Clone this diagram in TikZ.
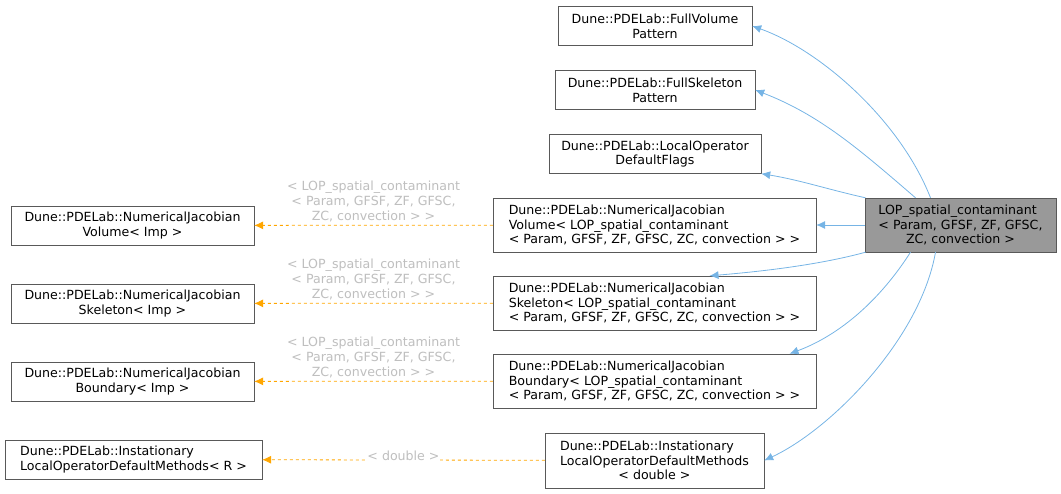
\documentclass[tikz,border=0pt]{standalone}
\usepackage{fontspec}
\setmainfont{DejaVu Sans}
\usetikzlibrary{arrows.meta}
\begin{document}
\begin{tikzpicture}
  [x=1pt,y=-1pt,
    every node/.style={font=\fontsize{12.6}{14.8}\selectfont},
    cls/.style={draw=black!65,fill=white,align=left,inner sep=2pt,minimum height=#1},
    cls/.default=39,
    inherit/.style={draw=cyan!70!blue!55,-{Latex[length=9pt,width=8pt]},thick},
    tmpl/.style={draw=orange!70!yellow,dashed,-{Latex[length=9pt,width=8pt]},thick},
    lbl/.style={text=black!25,align=center,fill=white,inner sep=0pt},
]
  \useasboundingbox (0,0) rectangle (1061,494);

  % bases
  \node[cls,minimum width=194] (fvol) at (655,26) {Dune::PDELab::FullVolume\\\hfill Pattern\hfill\null};
  \node[cls,minimum width=200] (fskel) at (655,90) {Dune::PDELab::FullSkeleton\\\hfill Pattern\hfill\null};
  \node[cls,minimum width=212] (flags) at (655,154) {Dune::PDELab::LocalOperator\\\hfill DefaultFlags\hfill\null};
  \node[cls=54,minimum width=323] (njvol) at (654.5,225) {Dune::PDELab::NumericalJacobian\\Volume< LOP\_spatial\_contaminant\\< Param, GFSF, ZF, GFSC, ZC, convection > >};
  \node[cls=54,minimum width=323] (njskel) at (654.5,303) {Dune::PDELab::NumericalJacobian\\Skeleton< LOP\_spatial\_contaminant\\< Param, GFSF, ZF, GFSC, ZC, convection > >};
  \node[cls=54,minimum width=323] (njbnd) at (654.5,381) {Dune::PDELab::NumericalJacobian\\Boundary< LOP\_spatial\_contaminant\\< Param, GFSF, ZF, GFSC, ZC, convection > >};
  \node[cls=55,minimum width=219] (inst) at (654.5,460.5) {Dune::PDELab::Instationary\\LocalOperatorDefaultMethods\\\hfill< double >\hfill\null};

  % templates
  \node[cls,minimum width=243] (tvol) at (132.5,225.5) {Dune::PDELab::NumericalJacobian\\\hfill Volume< Imp >\hfill\null};
  \node[cls,minimum width=243] (tskel) at (132.5,303.5) {Dune::PDELab::NumericalJacobian\\\hfill Skeleton< Imp >\hfill\null};
  \node[cls,minimum width=243] (tbnd) at (132.5,381.5) {Dune::PDELab::NumericalJacobian\\\hfill Boundary< Imp >\hfill\null};
  \node[cls,minimum width=257] (tinst) at (133.5,459.5) {Dune::PDELab::Instationary\\LocalOperatorDefaultMethods< R >};

  % class
  \node[cls=54,minimum width=191,fill=black!40] (lop) at (960.5,225) {LOP\_spatial\_contaminant\\< Param, GFSF, ZF, GFSC,\\\hfill ZC, convection >\hfill\null};

  \draw[inherit] ([xshift=-30]lop.north) .. controls (900,120) and (820,50) .. (fvol.east);
  \draw[inherit] ([xshift=-45]lop.north) .. controls (860,150) and (820,115) .. (fskel.east);
  \draw[inherit] ([xshift=-95]lop.north) .. controls (830,190) and (800,180) .. (flags.south east);
  \draw[inherit] (lop.west) -- (njvol.east);
  \draw[inherit] ([xshift=-95]lop.south) .. controls (830,262) and (780,270) .. ([xshift=55]njskel.north);
  \draw[inherit] ([xshift=-50]lop.south) .. controls (880,300) and (840,335) .. ([xshift=135]njbnd.north);
  \draw[inherit] ([xshift=-25]lop.south) .. controls (920,340) and (830,430) .. (inst.east);

  \draw[tmpl] (njvol) -- node[lbl,above=3pt]{< LOP\_spatial\_contaminant\\< Param, GFSF, ZF, GFSC,\\ZC, convection > >} (tvol);
  \draw[tmpl] (njskel) -- node[lbl,above=3pt]{< LOP\_spatial\_contaminant\\< Param, GFSF, ZF, GFSC,\\ZC, convection > >} (tskel);
  \draw[tmpl] (njbnd) -- node[lbl,above=3pt]{< LOP\_spatial\_contaminant\\< Param, GFSF, ZF, GFSC,\\ZC, convection > >} (tbnd);
  \draw[tmpl] (inst) -- node[lbl,above=-1pt]{< double >} (tinst);
\end{tikzpicture}
\end{document}
